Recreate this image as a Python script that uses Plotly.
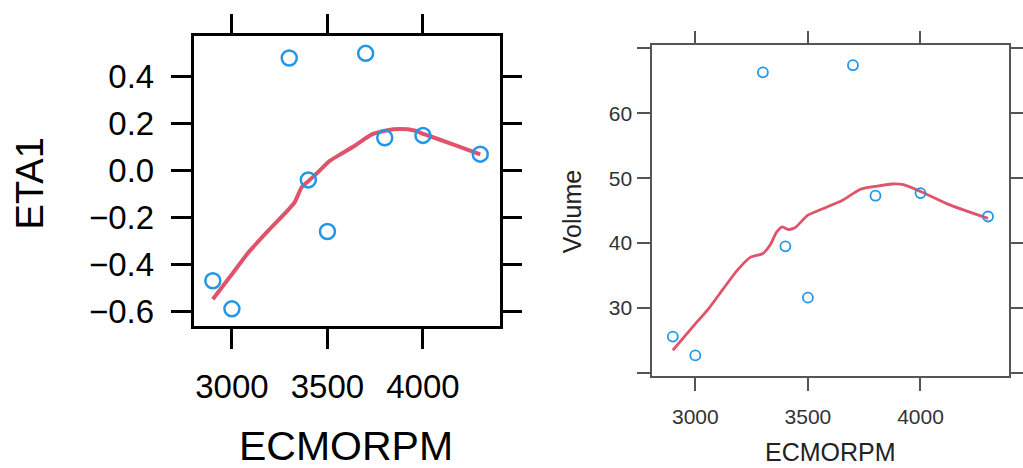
import plotly.graph_objects as go

# ---- data ----
ecmorpm = [2900, 3000, 3300, 3400, 3500, 3700, 3800, 4000, 4300]
eta1 = [-0.47, -0.59, 0.48, -0.04, -0.26, 0.50, 0.14, 0.15, 0.07]
volume = [25.6, 22.7, 66.3, 39.5, 31.6, 67.4, 47.3, 47.7, 44.1]

smooth_eta_x = [2900, 2996, 3088, 3199, 3291, 3328, 3365, 3402, 3457, 3512,
                3567, 3641, 3733, 3807, 3881, 3955, 4010, 4157, 4300]
smooth_eta_y = [-0.549, -0.447, -0.348, -0.249, -0.171, -0.136, -0.072, -0.044,
                -0.002, 0.041, 0.069, 0.105, 0.154, 0.171, 0.177, 0.171, 0.154,
                0.112, 0.069]

smooth_vol_x = [2900, 2996, 3061, 3127, 3186, 3244, 3300, 3332, 3361, 3386, 3412,
                3442, 3500, 3566, 3654, 3734, 3814, 3873, 3924, 4004, 4121, 4300]
smooth_vol_y = [23.5, 27.4, 30.0, 33.1, 35.8, 37.8, 38.4, 39.7, 41.7, 42.5, 42.1,
                42.35, 44.3, 45.3, 46.6, 48.3, 48.8, 49.1, 49.0, 47.9, 46.0, 43.8]

eta_ticks = [-0.6, -0.4, -0.2, 0.0, 0.2, 0.4]
eta_ticktext = ["\u22120.6", "\u22120.4", "\u22120.2", "0.0", "0.2", "0.4"]
vol_ticks = [20, 30, 40, 50, 60, 70]
vol_ticktext = ["", "30", "40", "50", "60", ""]
x_ticks = [3000, 3500, 4000]

W, H = 1023, 468
BLUE = "#2297E6"
RED = "#DF536B"
FONT = "Liberation Sans, Arial, sans-serif"

fig = go.Figure()

# left panel
fig.add_trace(go.Scatter(x=smooth_eta_x, y=smooth_eta_y, mode="lines",
                         line=dict(color=RED, width=4, shape="spline", smoothing=0.6),
                         xaxis="x", yaxis="y", showlegend=False, hoverinfo="skip"))
fig.add_trace(go.Scatter(x=ecmorpm, y=eta1, mode="markers",
                         marker=dict(symbol="circle-open", size=15, color=BLUE,
                                     line=dict(width=2.5, color=BLUE)),
                         xaxis="x", yaxis="y", showlegend=False))

# right panel
fig.add_trace(go.Scatter(x=smooth_vol_x, y=smooth_vol_y, mode="lines",
                         line=dict(color=RED, width=2.8, shape="spline", smoothing=0.6),
                         xaxis="x2", yaxis="y2", showlegend=False, hoverinfo="skip"))
fig.add_trace(go.Scatter(x=ecmorpm, y=volume, mode="markers",
                         marker=dict(symbol="circle-open", size=10, color=BLUE,
                                     line=dict(width=1.8, color=BLUE)),
                         xaxis="x2", yaxis="y2", showlegend=False))


def px_x(p):
    return p / W


def px_y(p):
    return 1 - p / H


left_axis = dict(showline=True, linecolor="black", linewidth=2.5, mirror="ticks",
                 ticks="outside", ticklen=20, tickwidth=2.5, tickcolor="black",
                 showgrid=False, zeroline=False,
                 tickfont=dict(family=FONT, size=33, color="black"))
right_axis = dict(showline=True, linecolor="#555555", linewidth=1.6, mirror="ticks",
                  ticks="outside", ticklen=13, tickwidth=1.6, tickcolor="#555555",
                  showgrid=False, zeroline=False,
                  tickfont=dict(family=FONT, size=21, color="#333333"))

fig.update_layout(
    width=W, height=H,
    margin=dict(l=0, r=0, t=0, b=0),
    paper_bgcolor="white", plot_bgcolor="white",
    xaxis=dict(domain=[px_x(196), px_x(506)], range=[2799, 4401], anchor="y",
               tickvals=x_ticks, ticklabelstandoff=9, **left_axis),
    yaxis=dict(domain=[px_y(328.3), px_y(36.7)], range=[-0.664, 0.572], anchor="x",
               tickvals=eta_ticks, ticktext=eta_ticktext, ticklabelstandoff=10,
               **left_axis),
    xaxis2=dict(domain=[px_x(660.5), px_x(1021.5)], range=[2808, 4391], anchor="y2",
                tickvals=x_ticks, ticklabelstandoff=8, **right_axis),
    yaxis2=dict(domain=[px_y(378.3), px_y(45.7)], range=[19.55, 70.45], anchor="x2",
                tickvals=vol_ticks, ticktext=vol_ticktext, ticklabelstandoff=1,
                **right_axis),
    annotations=[
        dict(text="ETA1", x=px_x(30), y=px_y(185), xref="paper", yref="paper",
             showarrow=False, textangle=-90, xanchor="center", yanchor="middle",
             font=dict(family=FONT, size=38, color="black")),
        dict(text="ECMORPM", x=px_x(350), y=px_y(449), xref="paper", yref="paper",
             showarrow=False, xanchor="center", yanchor="middle",
             font=dict(family=FONT, size=41, color="black")),
        dict(text="Volume", x=px_x(579), y=px_y(213), xref="paper", yref="paper",
             showarrow=False, textangle=-90, xanchor="center", yanchor="middle",
             font=dict(family=FONT, size=25, color="#222222")),
        dict(text="ECMORPM", x=px_x(841), y=px_y(454.5), xref="paper", yref="paper",
             showarrow=False, xanchor="center", yanchor="middle",
             font=dict(family=FONT, size=25, color="#222222")),
    ],
)

fig.write_html("out.html")
